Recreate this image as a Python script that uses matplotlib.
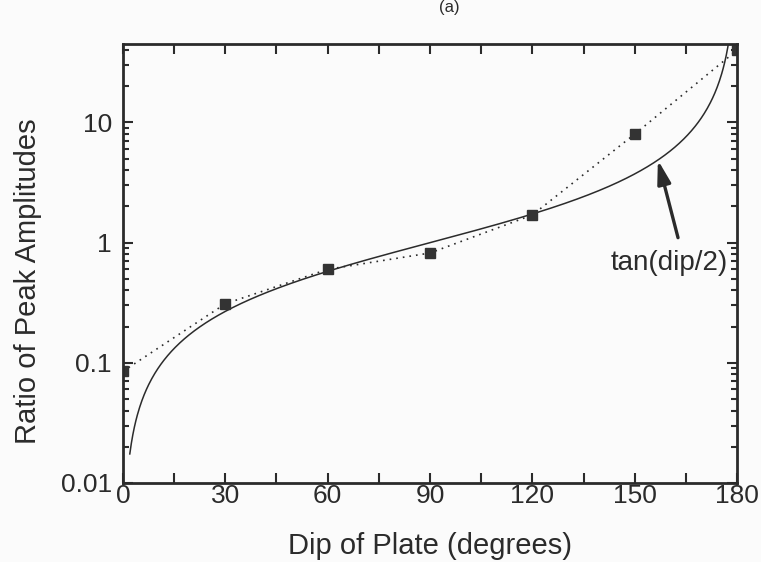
import numpy as np
import matplotlib
matplotlib.use("Agg")
import matplotlib.pyplot as plt
from matplotlib.ticker import FixedLocator, LogLocator, NullFormatter, FixedFormatter

# Measured peak-amplitude ratios versus plate dip
dip_deg = [0, 30, 60, 90, 120, 150, 180]
ratio = [0.085, 0.31, 0.6, 0.82, 1.7, 8.0, 40.0]

x_ticks = [0, 30, 60, 90, 120, 150, 180]
x_minor = [15, 45, 75, 105, 135, 165]
y_ticks = [0.01, 0.1, 1, 10]
y_labels = ["0.01", "0.1", "1", "10"]

ink = "#2b2b2b"
plt.rcParams["font.family"] = ["Liberation Sans", "DejaVu Sans"]

fig = plt.figure(figsize=(7.61, 5.62), dpi=100, facecolor="#fbfbfb")
ax = fig.add_axes([0.1616, 0.1406, 0.8069, 0.7811], facecolor="#fbfbfb")

# Theoretical curve tan(dip/2)
theta = np.linspace(2.0, 179.5, 800)
ax.plot(theta, np.tan(np.radians(theta) / 2.0), color=ink, lw=1.1)

# Observations joined by a dotted line
ax.plot(dip_deg, ratio, color=ink, lw=1.2, ls=(0, (1, 3)),
        marker="s", ms=7, mfc="#333333", mec="#333333", clip_on=True)

ax.set_yscale("log")
ax.set_xlim(0, 180)
ax.set_ylim(0.01, 45)

ax.xaxis.set_major_locator(FixedLocator(x_ticks))
ax.xaxis.set_minor_locator(FixedLocator(x_minor))
ax.yaxis.set_major_locator(FixedLocator(y_ticks))
ax.yaxis.set_major_formatter(FixedFormatter(y_labels))
ax.yaxis.set_minor_locator(LogLocator(base=10, subs=np.arange(2, 10)))
ax.yaxis.set_minor_formatter(NullFormatter())

ax.tick_params(which="both", direction="in", top=True, right=True,
               colors=ink, width=1.5)
ax.tick_params(which="major", length=7, labelsize=19)
ax.tick_params(axis="x", which="major", pad=1)
ax.tick_params(axis="y", which="major", pad=8)
ax.tick_params(axis="x", which="minor", length=7)
ax.tick_params(axis="y", which="minor", length=4)
for s in ax.spines.values():
    s.set_linewidth(2)
    s.set_color(ink)

ax.set_xlabel("Dip of Plate (degrees)", fontsize=21, color=ink, labelpad=17)
ax.set_ylabel("Ratio of Peak Amplitudes", fontsize=21, color=ink)
ax.yaxis.set_label_coords(-0.132, 0.46)

# Label for the theoretical curve, with an arrow pointing at it
tip_dip = 156.8
ax.annotate("", xy=(tip_dip, np.tan(np.radians(tip_dip) / 2.0)),
            xytext=(162.7, 1.1),
            arrowprops=dict(arrowstyle="-|>,head_length=1.4,head_width=0.4",
                            color=ink, lw=2.4, shrinkA=0, shrinkB=0))
ax.text(160.1, 0.68, "tan(dip/2)", ha="center", va="center",
        fontsize=20, color=ink)

fig.text(0.59, 1.0, "(a)", ha="center", va="top", fontsize=12, color=ink)

fig.savefig("out.png", dpi=100, facecolor=fig.get_facecolor())
